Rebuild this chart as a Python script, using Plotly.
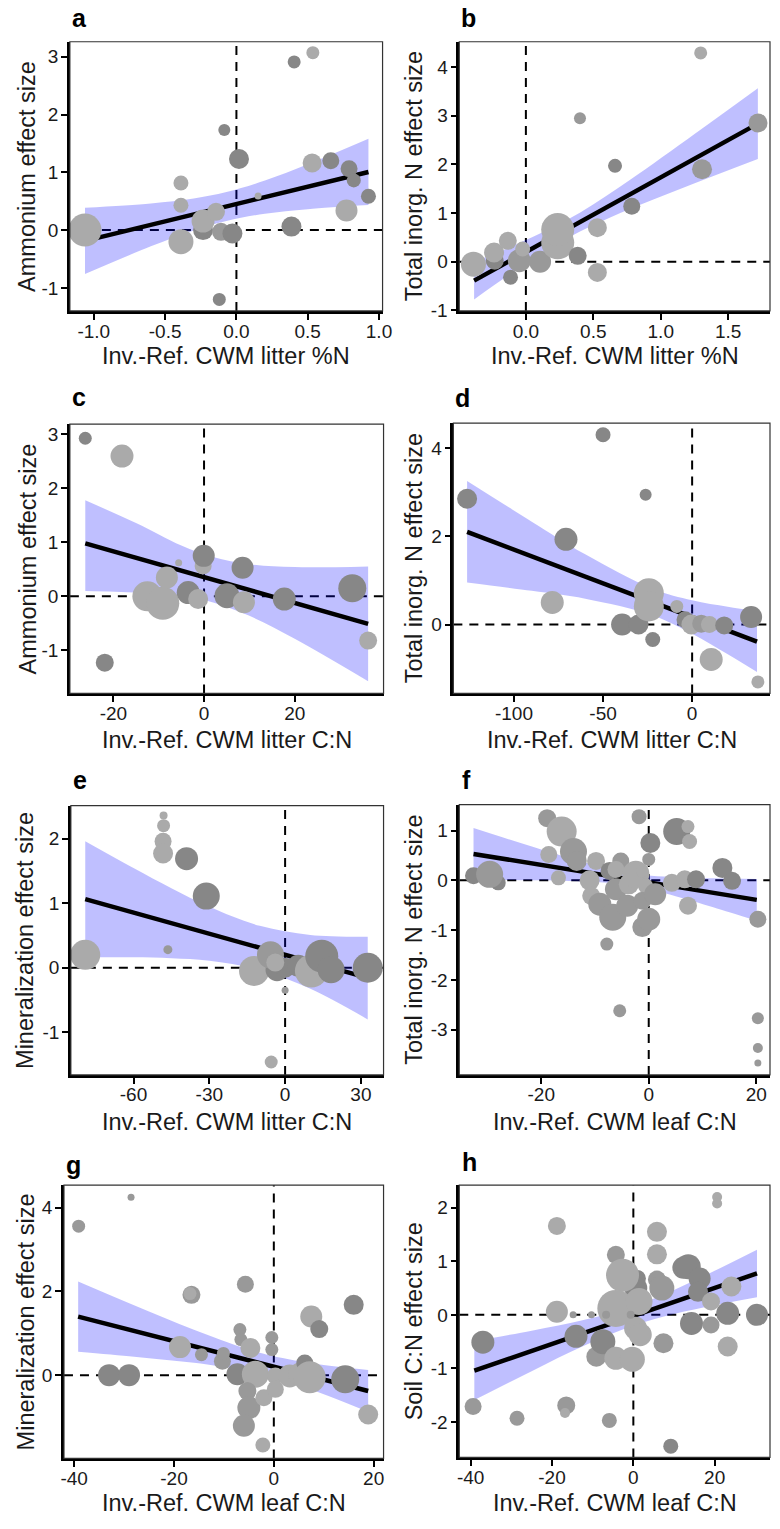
import plotly.graph_objects as go

# ================= DATA =================
# shade codes: L = light grey, M = medium grey, D = dark grey
# ---- panel a ----
a_x = [-1.062, -0.389, -0.389, -0.389, -0.234, -0.234, -0.143, -0.085, -0.12, -0.108, -0.028, 0.018, 0.152, 0.386, 0.405, 0.536, 0.531, 0.662, 0.79, 0.823, 0.772, 0.926]
a_y = [0.0, 0.815, 0.43, -0.2, 0.0, 0.155, 0.315, 1.73, -1.2, -0.03, -0.06, 1.23, 0.59, 0.06, 2.91, 3.07, 1.16, 1.2, 1.06, 0.86, 0.34, 0.585]
a_size = [33, 15, 15, 25, 20, 23, 18, 12, 13, 18, 20, 20, 7, 20, 13, 13, 19, 17, 17, 14, 22, 15]
a_shade = ["L", "L", "L", "L", "D", "L", "L", "D", "D", "M", "D", "D", "L", "D", "D", "L", "L", "D", "D", "D", "L", "D"]
a_line_x = [-1.062, 0.926]
a_line_y = [-0.187, 1.006]
a_band_x = [-1.062, -0.6, -0.3, -0.07, 0.2, 0.5, 0.926]
a_band_lo = [-0.761, -0.282, -0.007, 0.158, 0.283, 0.362, 0.432]
a_band_up = [0.387, 0.462, 0.547, 0.658, 0.857, 1.138, 1.58]
a_xticks = [-1.0, -0.5, 0.0, 0.5, 1.0]
a_xticklabels = ["-1.0", "-0.5", "0.0", "0.5", "1.0"]
a_yticks = [-1, 0, 1, 2, 3]
a_xlabel = "Inv.-Ref. CWM litter %N"
a_ylabel = "Ammonium effect size"

# ---- panel b ----
b_x = [-0.389, -0.231, -0.236, -0.134, -0.114, -0.049, -0.024, 0.105, 0.236, 0.236, 0.384, 0.401, 0.53, 0.53, 0.661, 0.785, 1.296, 1.306, 1.721]
b_y = [-0.05, 0.02, 0.19, 0.43, -0.32, 0.02, 0.26, 0.0, 0.39, 0.66, 0.12, 2.95, 0.7, -0.22, 1.97, 1.14, 4.29, 1.9, 2.85]
b_size = [25, 18, 20, 18, 15, 23, 15, 22, 33, 33, 18, 12, 19, 19, 14, 17, 13, 20, 19]
b_shade = ["L", "D", "L", "L", "D", "M", "L", "M", "L", "L", "D", "M", "L", "L", "D", "D", "L", "M", "M"]
b_line_x = [-0.384, 1.72]
b_line_y = [-0.389, 2.837]
b_band_x = [-0.384, -0.1, 0.3, 0.7, 1.2, 1.72]
b_band_lo = [-0.776, -0.227, 0.47, 0.999, 1.557, 2.112]
b_band_up = [-0.002, 0.321, 0.85, 1.547, 2.522, 3.562]
b_xticks = [0.0, 0.5, 1.0, 1.5]
b_xticklabels = ["0.0", "0.5", "1.0", "1.5"]
b_yticks = [-1, 0, 1, 2, 3, 4]
b_xlabel = "Inv.-Ref. CWM litter %N"
b_ylabel = "Total inorg. N effect size"

# ---- panel c ----
c_x = [-26.2, -18.1, -21.9, -12.5, -9.1, -8.2, -5.6, -3.5, -1.3, -0.2, -0.07, 5.06, 8.5, 8.8, 17.7, 32.7, 36.2]
c_y = [2.93, 2.6, -1.23, 0.0, -0.13, 0.35, 0.62, 0.07, -0.05, 0.56, 0.75, 0.01, 0.53, -0.11, -0.05, 0.15, -0.82]
c_size = [13, 23, 18, 30, 33, 22, 7, 23, 20, 17, 22, 25, 22, 22, 23, 28, 18]
c_shade = ["D", "L", "D", "L", "L", "L", "L", "D", "L", "L", "D", "D", "D", "L", "D", "D", "L"]
c_line_x = [-26.2, 36.2]
c_line_y = [0.981, -0.51]
c_band_x = [-26.2, -15, -5, 2, 10, 20, 36.2]
c_band_lo = [0.10, 0.071, 0.01, -0.113, -0.362, -0.788, -1.575]
c_band_up = [1.78, 1.357, 0.94, 0.727, 0.594, 0.542, 0.555]
c_xticks = [-20, 0, 20]
c_yticks = [-1, 0, 1, 2, 3]
c_xlabel = "Inv.-Ref. CWM litter C:N"
c_ylabel = "Ammonium effect size"

# ---- panel d ----
d_x = [-126.3, -50, -26.1, -70.8, -78.5, -39.3, -30.1, -22.1, -24.3, -24.3, -8.6, -4, -0.4, 5.1, 9.7, 18, 10.7, 33.1, 36.9]
d_y = [2.85, 4.3, 2.94, 1.93, 0.5, 0.0, 0.0, -0.34, 0.71, 0.41, 0.41, 0.11, 0.0, 0.02, 0.0, -0.02, -0.79, 0.17, -1.3]
d_size = [20, 15, 12, 23, 23, 22, 20, 15, 30, 30, 13, 17, 20, 18, 17, 18, 23, 22, 13]
d_shade = ["D", "D", "D", "D", "L", "D", "D", "D", "L", "L", "L", "D", "L", "M", "L", "D", "L", "D", "L"]
d_line_x = [-126.3, 36.4]
d_line_y = [2.10, -0.387]
d_band_x = [-126.3, -90, -60, -22, 0, 20, 36.4]
d_band_lo = [0.95, 0.764, 0.585, 0.207, -0.21, -0.674, -1.077]
d_band_up = [3.25, 2.33, 1.591, 0.807, 0.55, 0.402, 0.303]
d_xticks = [-100, -50, 0]
d_yticks = [0, 2, 4]
d_xlabel = "Inv.-Ref. CWM litter C:N"
d_ylabel = "Total inorg. N effect size"

# ---- panel e ----
e_x = [-79.1, -48.1, -48.1, -48.3, -48.3, -39, -31.2, -46.4, -12.3, -3.2, 0, 5.2, -5.8, -3.9, 10.4, 14.5, 18.2, 32.7, 0, -5.5]
e_y = [0.2, 2.36, 2.2, 1.96, 1.77, 1.69, 1.11, 0.28, -0.05, -0.03, 0.0, 0.03, 0.2, 0.08, -0.05, 0.18, -0.03, 0.0, -0.35, -1.46]
e_size = [30, 8, 13, 17, 20, 23, 27, 9, 30, 23, 20, 22, 27, 18, 33, 33, 27, 30, 7, 13]
e_shade = ["L", "L", "L", "L", "L", "D", "D", "M", "L", "D", "D", "D", "M", "L", "L", "D", "D", "D", "M", "L"]
e_line_x = [-79.1, 32.7]
e_line_y = [1.062, -0.156]
e_band_x = [-79.1, -60, -45, -30, -10, 10, 32.7]
e_band_lo = [0.163, 0.163, 0.149, 0.110, -0.031, -0.326, -0.80]
e_band_up = [1.961, 1.545, 1.232, 0.944, 0.649, 0.508, 0.48]
e_xticks = [-60, -30, 0, 30]
e_yticks = [-1, 0, 1, 2]
e_xlabel = "Inv.-Ref. CWM litter C:N"
e_ylabel = "Mineralization effect size"

# ---- panel f ----
f_x = [-28, -32.6, -29.6, -18.9, -16.2, -14, -18.6, -16.8, -13.4, -9.8, -11, -10.7, -9.1, -7.3, -6.1, -5.2, -6.7, -4, -7.8, -5.4, -6.1, -3.7, -2.4, -1.2, -0.6, -1.8, 0, 0.3, -1.2, -1.2, 0, 1.2, 4.3, 5.2, 7.3, 7.6, 6.7, 7.3, 8.8, 13.7, 15.5, 20.3, 20.3, 20.3, 20.3]
f_y = [-0.05, 0.09, 0.12, 1.25, 0.98, 0.58, 0.52, 0.05, 0.39, 0.39, 0.0, -0.31, -0.48, 0.19, -0.18, 0.39, -0.74, -0.51, -1.28, -2.62, 0.22, -0.08, 0.12, 0.19, -0.11, 1.28, 0.42, 0.75, -0.41, -0.94, -0.78, -0.28, -0.05, 0.98, 1.08, 0.78, 0.02, -0.51, 0.02, 0.25, -0.01, -0.78, -2.77, -3.37, -3.67]
f_size = [15, 17, 27, 18, 30, 27, 17, 15, 20, 18, 20, 18, 23, 18, 22, 17, 27, 22, 13, 13, 17, 20, 27, 13, 15, 15, 13, 20, 18, 20, 23, 22, 18, 27, 13, 15, 18, 18, 18, 20, 18, 17, 12, 10, 7]
f_shade = ["D", "D", "M", "M", "L", "M", "L", "L", "M", "L", "L", "L", "M", "D", "M", "M", "M", "M", "M", "M", "L", "L", "L", "L", "L", "M", "M", "D", "M", "M", "M", "M", "L", "D", "L", "L", "L", "L", "D", "D", "D", "M", "M", "M", "M"]
f_line_x = [-32.6, 20.1]
f_line_y = [0.53, -0.392]
f_band_x = [-32.6, -20, -10, -4, 5, 12, 20.1]
f_band_lo = [0.01, 0.0, -0.035, -0.09, -0.318, -0.54, -0.812]
f_band_up = [1.05, 0.62, 0.305, 0.15, 0.063, 0.04, 0.028]
f_xticks = [-20, 0, 20]
f_yticks = [-3, -2, -1, 0, 1]
f_xlabel = "Inv.-Ref. CWM leaf C:N"
f_ylabel = "Total inorg. N effect size"

# ---- panel g ----
g_x = [-39.1, -28.6, -33, -29, -18.8, -16.5, -16.8, -14.5, -10.3, -10.1, -5.7, -6.8, -6.6, -4.7, -7.3, -3.7, -5.3, -5, -6, -2, -2.2, -0.4, -0.4, 0.3, 0.3, 3.2, 5.2, 6.2, 7.2, 7.5, 9.1, 16, 14.3, 18.9]
g_y = [3.56, 4.25, 0.0, 0.0, 0.67, 1.92, 1.95, 0.49, 0.33, 0.52, 2.17, 1.09, 0.85, 0.65, 0.02, 0.02, -0.38, -0.78, -1.21, -0.54, -1.67, 0.9, 0.61, -0.02, -0.34, -0.02, 0.02, 0.29, -0.05, 1.4, 1.1, 1.68, -0.1, -0.94]
g_size = [13, 7, 22, 22, 22, 18, 13, 13, 17, 13, 17, 13, 13, 20, 22, 27, 18, 23, 22, 17, 15, 13, 13, 17, 17, 23, 23, 17, 32, 22, 18, 20, 28, 20]
g_shade = ["M", "M", "D", "D", "L", "M", "L", "M", "M", "M", "M", "M", "M", "L", "D", "L", "M", "M", "M", "L", "L", "M", "M", "L", "L", "L", "L", "D", "L", "L", "D", "D", "D", "L"]
g_line_x = [-39.2, 18.9]
g_line_y = [1.40, -0.378]
g_band_x = [-39.2, -28, -16, -6, -1.5, 8, 18.9]
g_band_lo = [0.56, 0.442, 0.294, 0.116, -0.004, -0.366, -0.878]
g_band_up = [2.24, 1.672, 1.086, 0.652, 0.496, 0.276, 0.122]
g_xticks = [-40, -20, 0, 20]
g_yticks = [0, 2, 4]
g_xlabel = "Inv.-Ref. CWM leaf C:N"
g_ylabel = "Mineralization effect size"

# ---- panel h ----
h_x = [-39.4, -37, -28.6, -18.8, -18.8, -16.5, -16.8, -14.8, -14.1, -10.3, -9.1, -7.5, -5.9, -4.3, 1.0, 0.6, -2.66, -4.3, 1.4, 0.56, 1.7, -4.3, -0.24, 5.8, 5.8, 5.8, 7.0, 7.4, 9.2, 12.3, 13.5, 16.3, 15.9, 14.3, 19.1, 19.1, 20.6, 20.6, 23.2, 24.1, 23.2, 30.4, -6.7, -0.65]
h_y = [-1.71, -0.51, -1.93, 1.66, 0.06, -1.69, -1.83, 0.0, -0.4, 0.0, -0.78, -0.5, -1.97, 1.12, 0.68, 0.5, 0.74, 0.12, 0.25, -0.25, -0.37, -0.81, -0.83, 1.55, 1.13, 0.66, 0.5, -0.53, -2.45, 0.88, 0.9, 0.68, 0.43, -0.16, 0.25, -0.19, 2.2, 2.08, 0.03, 0.53, -0.59, 0.0, 0.0, 0.0]
h_size = [17, 23, 15, 18, 22, 18, 10, 7, 23, 7, 20, 25, 15, 18, 17, 23, 33, 37, 27, 23, 23, 23, 25, 20, 20, 18, 25, 20, 15, 22, 25, 22, 20, 23, 18, 17, 10, 10, 23, 20, 20, 22, 8, 8]
h_shade = ["M", "D", "M", "L", "L", "M", "L", "M", "D", "M", "M", "D", "M", "M", "D", "D", "L", "L", "L", "L", "L", "L", "L", "L", "L", "M", "M", "M", "D", "D", "D", "D", "D", "D", "L", "M", "L", "L", "D", "L", "L", "D", "M", "M"]
h_line_x = [-39.1, 30.4]
h_line_y = [-1.04, 0.773]
h_band_x = [-39.1, -25, -12, 0, 10, 20, 30.4]
h_band_lo = [-1.59, -1.05, -0.573, -0.2, 0.017, 0.181, 0.33]
h_band_up = [-0.49, -0.294, -0.093, 0.16, 0.465, 0.823, 1.216]
h_xticks = [-40, -20, 0, 20]
h_yticks = [-2, -1, 0, 1, 2]
h_xlabel = "Inv.-Ref. CWM leaf C:N"
h_ylabel = "Soil C:N effect size"

# ================= LAYOUT / STYLE =================
W, H = 780, 1529
FONT = "Liberation Sans, Arial, Helvetica, sans-serif"
SHADE = {"L": "#aaaaaa", "M": "#999999", "D": "#878787"}
BAND = "rgba(0,0,255,0.25)"

# pixel boxes (left, top, right, bottom), axis ranges, title positions
panels = [
    dict(k="a", box=(68, 42, 386, 313), xr=(-1.168, 1.025), yr=(-1.40, 3.26), yt_x=25, xt_y=358, lab=(68, 18)),
    dict(k="b", box=(464, 42, 780, 313), xr=(-0.494, 1.81), yr=(-1.012, 4.52), yt_x=418, xt_y=358, lab=(464, 18)),
    dict(k="c", box=(68, 427, 387, 698), xr=(-29.6, 39.6), yr=(-1.80, 3.19), yt_x=25, xt_y=745, lab=(68, 400)),
    dict(k="d", box=(458, 426, 780, 698), xr=(-134, 43.7), yr=(-1.56, 4.56), yt_x=418, xt_y=745, lab=(458, 401)),
    dict(k="e", box=(69, 811, 387, 1082), xr=(-84.8, 38.96), yr=(-1.66, 2.51), yt_x=23, xt_y=1129, lab=(69, 785)),
    dict(k="f", box=(464, 810, 780, 1082), xr=(-35.25, 22.56), yr=(-3.91, 1.52), yt_x=418, xt_y=1129, lab=(465, 785)),
    dict(k="g", box=(62, 1193, 387, 1468), xr=(-42.04, 21.98), yr=(-1.99, 4.54), yt_x=23, xt_y=1513, lab=(62, 1173)),
    dict(k="h", box=(464, 1193, 780, 1467), xr=(-42.8, 33.6), yr=(-2.66, 2.42), yt_x=418, xt_y=1513, lab=(465, 1170)),
]

G = globals()
fig = go.Figure()
shapes, annots = [], []


def px_x(v):
    return v / W


def px_y(v):
    return 1 - v / H


for i, p in enumerate(panels, start=1):
    k = p["k"]
    xa = "x" if i == 1 else f"x{i}"
    ya = "y" if i == 1 else f"y{i}"
    L, T, R, B = p["box"]

    bx, blo, bup = G[k + "_band_x"], G[k + "_band_lo"], G[k + "_band_up"]
    fig.add_trace(go.Scatter(x=bx, y=blo, mode="lines", line=dict(width=0, shape="spline", color=BAND),
                             xaxis=xa, yaxis=ya, showlegend=False, hoverinfo="skip"))
    fig.add_trace(go.Scatter(x=bx, y=bup, mode="lines", line=dict(width=0, shape="spline", color=BAND),
                             fill="tonexty", fillcolor=BAND,
                             xaxis=xa, yaxis=ya, showlegend=False, hoverinfo="skip"))
    fig.add_trace(go.Scatter(x=G[k + "_line_x"], y=G[k + "_line_y"], mode="lines",
                             line=dict(color="black", width=4.5),
                             xaxis=xa, yaxis=ya, showlegend=False, hoverinfo="skip"))
    fig.add_trace(go.Scatter(x=G[k + "_x"], y=G[k + "_y"], mode="markers",
                             marker=dict(size=G[k + "_size"], color=[SHADE[s] for s in G[k + "_shade"]],
                                         line=dict(width=0), opacity=1),
                             xaxis=xa, yaxis=ya, showlegend=False))

    xticks = G[k + "_xticks"]
    xtl = G.get(k + "_xticklabels", [str(v) for v in xticks])
    yticks = G[k + "_yticks"]
    ytl = [str(v) for v in yticks]
    common = dict(showline=True, linewidth=2.5, linecolor="black", ticks="outside", ticklen=6,
                  tickwidth=2, tickcolor="black", showgrid=False, zeroline=False,
                  tickfont=dict(family=FONT, size=19, color="#1a1a1a"), fixedrange=True)
    fig.update_layout(**{
        ("xaxis" if i == 1 else f"xaxis{i}"): dict(domain=[px_x(L), px_x(R)], range=list(p["xr"]), anchor=ya,
                                                  tickvals=xticks, ticktext=xtl, ticklabelstandoff=-5, **common),
        ("yaxis" if i == 1 else f"yaxis{i}"): dict(domain=[px_y(B), px_y(T)], range=list(p["yr"]), anchor=xa,
                                                  tickvals=yticks, ticktext=ytl, ticklabelstandoff=-1, **common),
    })

    dash = dict(color="black", width=2, dash="9px,7px")
    shapes.append(dict(type="line", xref=f"{xa} domain", yref=ya, x0=0, x1=1, y0=0, y1=0, line=dash, layer="below"))
    shapes.append(dict(type="line", xref=xa, yref=f"{ya} domain", x0=0, x1=0, y0=0, y1=1, line=dash, layer="below"))
    shapes.append(dict(type="rect", xref=f"{xa} domain", yref=f"{ya} domain", x0=0, x1=1, y0=0, y1=1,
                       line=dict(color="#333333", width=1.2), layer="above"))

    # panel letter
    annots.append(dict(text=f"<b>{k}</b>", xref="paper", yref="paper", x=px_x(p["lab"][0]), y=px_y(p["lab"][1]),
                       xanchor="left", yanchor="middle", showarrow=False,
                       font=dict(family=FONT, size=25, color="black")))
    # y title
    annots.append(dict(text=G[k + "_ylabel"], xref="paper", yref="paper", x=px_x(p["yt_x"]), y=px_y((T + B) / 2),
                       xanchor="center", yanchor="middle", textangle=-90, showarrow=False,
                       font=dict(family=FONT, size=23.5, color="#1a1a1a")))
    # x title
    annots.append(dict(text=G[k + "_xlabel"], xref="paper", yref="paper", x=px_x((L + R) / 2), y=px_y(p["xt_y"]),
                       xanchor="center", yanchor="middle", showarrow=False, borderpad=0,
                       font=dict(family=FONT, size=23.5, color="#1a1a1a")))

fig.update_layout(width=W, height=H, margin=dict(l=0, r=0, t=0, b=0), paper_bgcolor="white",
                  plot_bgcolor="white", shapes=shapes, annotations=annots, showlegend=False)

fig.write_html("out.html")
